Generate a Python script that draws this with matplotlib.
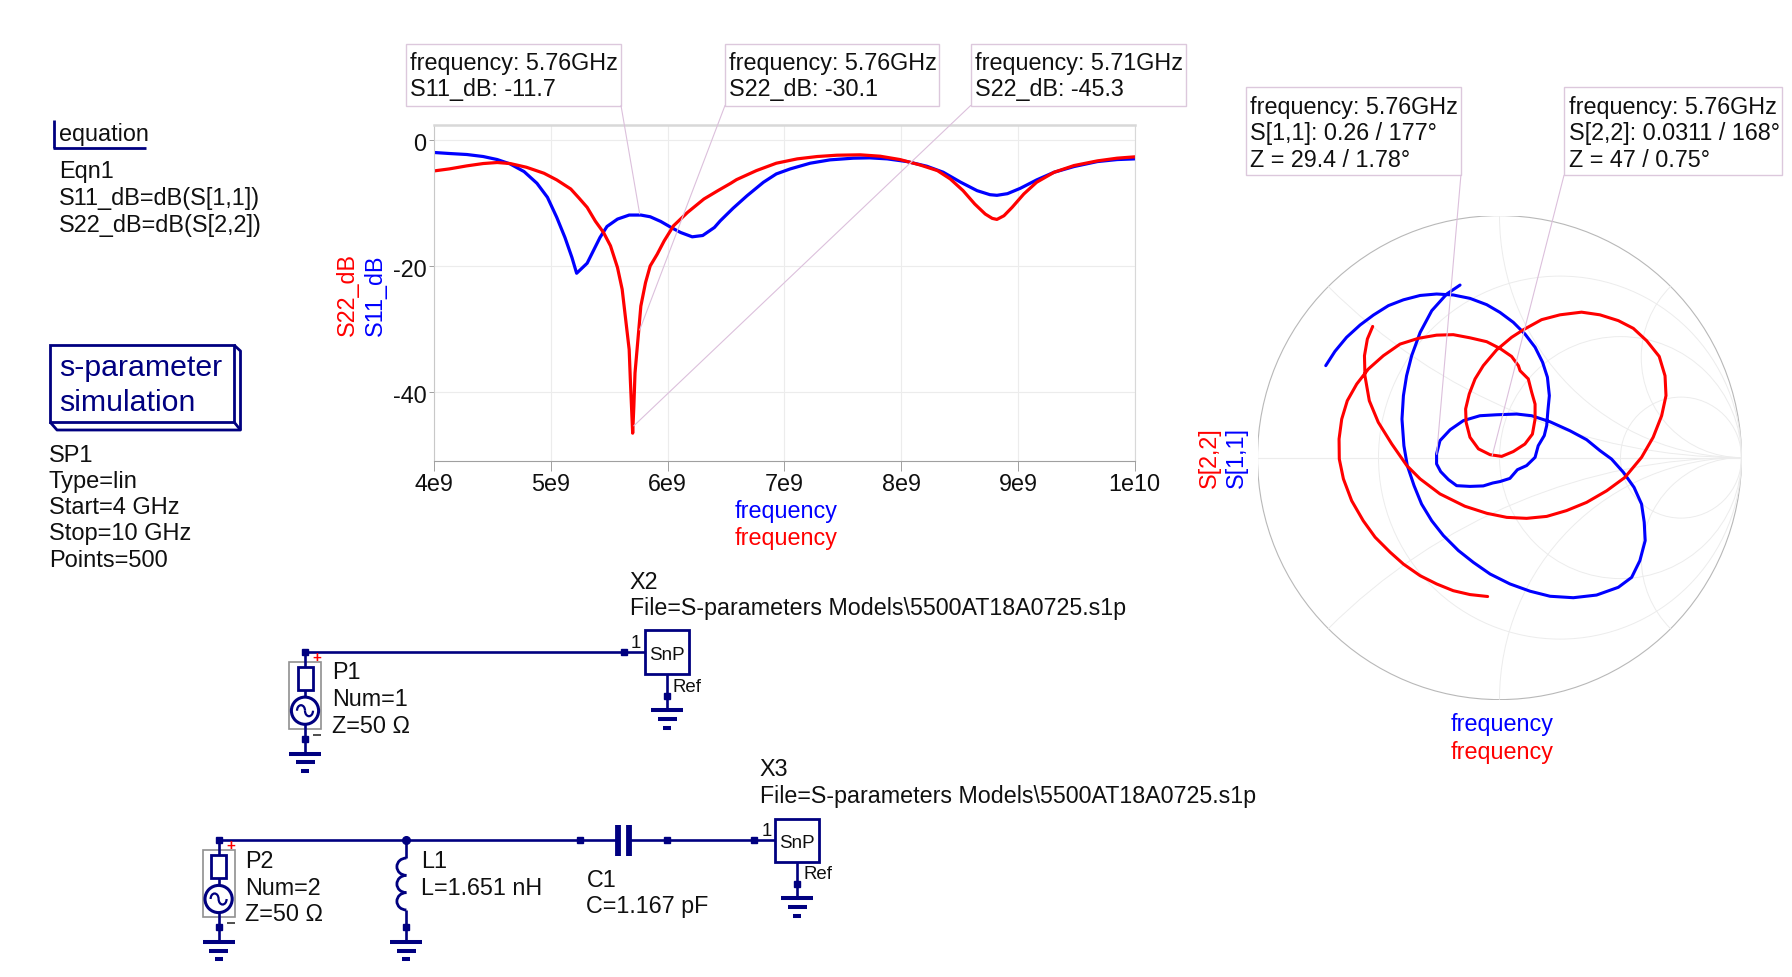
import numpy as np
import matplotlib
matplotlib.use("Agg")
import matplotlib.pyplot as plt
from matplotlib.patches import Rectangle, Circle, Arc, ConnectionPatch
from matplotlib.transforms import ScaledTranslation

plt.rcParams['font.family'] = ['Liberation Sans', 'DejaVu Sans']

W, H = 1792, 978
NAVY = '#000080'
FS = 16.8

# rectangular plot, frequency in GHz and level in dB
s11_freq = [4.0, 4.13, 4.28, 4.42, 4.54, 4.65, 4.77, 4.88, 4.97, 5.05, 5.12, 5.18, 5.22, 5.31, 5.37, 5.42, 5.48, 5.57, 5.67, 5.77,
            5.85, 5.94, 6.03, 6.11, 6.21, 6.30, 6.40, 6.45, 6.56, 6.68, 6.82, 6.93, 7.05, 7.22, 7.39, 7.59, 7.73, 7.88, 8.05,
            8.22, 8.36, 8.51, 8.65, 8.76, 8.82, 8.91, 9.02, 9.16, 9.31, 9.48, 9.68, 9.85, 10.0]
s11_db = [-1.96, -2.12, -2.28, -2.60, -3.08, -3.77, -4.99, -6.84, -9.07, -12.26, -15.44, -18.62, -21.11, -19.52, -17.29, -15.44, -13.69, -12.52, -11.88, -11.88,
          -12.15, -12.89, -13.85, -14.64, -15.33, -15.12, -13.85, -12.8, -10.8, -8.81, -6.68, -5.36, -4.56, -3.66, -3.13, -2.86, -2.81, -2.97, -3.40,
          -4.14, -5.09, -6.68, -8.01, -8.65, -8.75, -8.49, -7.64, -6.31, -5.09, -4.19, -3.40, -3.08, -2.97]
s22_freq = [4.0, 4.13, 4.28, 4.42, 4.54, 4.65, 4.79, 4.94, 5.05, 5.17, 5.24, 5.31, 5.38, 5.45, 5.51, 5.57, 5.61, 5.64, 5.67, 5.68, 5.69, 5.70,
            5.71, 5.72, 5.745, 5.77, 5.81, 5.85, 5.91, 5.97, 6.05, 6.17, 6.31, 6.43, 6.54, 6.59, 6.76, 6.93, 7.11, 7.28, 7.45, 7.65,
            7.82, 7.99, 8.16, 8.31, 8.42, 8.53, 8.63, 8.72, 8.78, 8.82, 8.88, 8.95, 9.05, 9.16, 9.31, 9.48, 9.68, 9.85, 10.0]
s22_db = [-4.88, -4.56, -4.08, -3.71, -3.55, -3.71, -4.30, -5.25, -6.31, -7.75, -9.18, -10.66, -12.84, -14.64, -16.76, -20.21, -23.66, -28.43, -33.21, -37.98, -42.23, -46.47,
          -42.23, -36.92, -31.62, -26.31, -22.60, -19.95, -18.09, -15.97, -13.58, -11.46, -9.34, -8.01, -6.84, -6.26, -4.83, -3.66, -2.97, -2.60, -2.39, -2.33,
          -2.55, -3.08, -3.93, -4.83, -6.15, -8.01, -10.13, -11.72, -12.41, -12.57, -11.99, -10.66, -8.54, -6.68, -5.09, -4.03, -3.29, -2.86, -2.65]
x_ticks = [4, 5, 6, 7, 8, 9, 10]
x_tick_labels = ['4e9', '5e9', '6e9', '7e9', '8e9', '9e9', '1e10']
y_ticks = [0, -20, -40]

# smith chart, reflection coefficient
s11_re = [-0.718, -0.680, -0.632, -0.576, -0.521, -0.459, -0.397, -0.328, -0.260, -0.191, -0.122, -0.053, 0.002, 0.057, 0.105, 0.147,
          0.178, 0.198, 0.206, 0.200, 0.195, 0.185, 0.160, 0.147, 0.112, 0.074, 0.043, 0.002, -0.028, -0.067, -0.122, -0.177,
          -0.211, -0.243, -0.260, -0.260, -0.246, -0.204, -0.149, -0.081, -0.012, 0.071, 0.133, 0.209, 0.291, 0.360, 0.415,
          0.463, 0.512, 0.556, 0.587, 0.598, 0.602, 0.580, 0.546, 0.491, 0.401, 0.305, 0.209, 0.126, 0.043, -0.039, -0.108,
          -0.170, -0.232, -0.280, -0.322, -0.353, -0.381, -0.395, -0.403, -0.397, -0.384, -0.363, -0.328, -0.280, -0.218, -0.163]
s11_im = [0.380, 0.439, 0.497, 0.548, 0.589, 0.628, 0.652, 0.670, 0.676, 0.672, 0.658, 0.632, 0.600, 0.559, 0.511, 0.456,
          0.394, 0.332, 0.256, 0.194, 0.132, 0.091, 0.049, 0.001, -0.033, -0.050, -0.086, -0.099, -0.105, -0.117, -0.119, -0.116,
          -0.091, -0.058, -0.026, 0.015, 0.070, 0.115, 0.153, 0.173, 0.177, 0.180, 0.173, 0.148, 0.111, 0.074, 0.029,
          -0.006, -0.061, -0.123, -0.192, -0.267, -0.343, -0.426, -0.495, -0.536, -0.568, -0.579, -0.573, -0.552, -0.522, -0.481, -0.433,
          -0.384, -0.322, -0.261, -0.192, -0.116, -0.033, 0.049, 0.159, 0.256, 0.338, 0.421, 0.517, 0.607, 0.676, 0.713]
s22_re = [-0.049, -0.122, -0.191, -0.260, -0.328, -0.397, -0.452, -0.514, -0.563, -0.611, -0.645, -0.662, -0.663, -0.652, -0.629, -0.590,
          -0.542, -0.480, -0.411, -0.335, -0.260, -0.191, -0.122, -0.053, 0.002, 0.050, 0.078, 0.085, 0.119, 0.133, 0.147, 0.147,
          0.136, 0.105, 0.057, 0.009, -0.039, -0.087, -0.122, -0.138, -0.140, -0.125, -0.101, -0.067, -0.012, 0.050, 0.098, 0.174,
          0.250, 0.339, 0.415, 0.491, 0.553, 0.608, 0.660, 0.684, 0.688, 0.670, 0.635, 0.587, 0.518, 0.443, 0.360, 0.277, 0.195,
          0.112, 0.030, -0.053, -0.143, -0.246, -0.328, -0.383, -0.445, -0.501, -0.538, -0.556, -0.558, -0.546, -0.524]
s22_im = [-0.574, -0.566, -0.550, -0.522, -0.488, -0.440, -0.391, -0.329, -0.261, -0.178, -0.088, -0.006, 0.077, 0.159, 0.235, 0.304,
          0.366, 0.421, 0.469, 0.493, 0.506, 0.508, 0.495, 0.479, 0.451, 0.418, 0.380, 0.359, 0.325, 0.270, 0.221, 0.159,
          0.097, 0.056, 0.025, 0.005, 0.012, 0.036, 0.084, 0.146, 0.201, 0.263, 0.325, 0.380, 0.445, 0.497, 0.528, 0.570,
          0.590, 0.601, 0.590, 0.566, 0.534, 0.483, 0.418, 0.338, 0.256, 0.173, 0.084, 0.001, -0.082, -0.137, -0.185, -0.219, -0.243,
          -0.251, -0.247, -0.230, -0.201, -0.150, -0.088, -0.033, 0.056, 0.146, 0.235, 0.338, 0.421, 0.490, 0.542]
smith_r = [1/3, 1, 3]
smith_x = [0.414, 1, 2.414]

# marker readouts
rect_markers = [(5.76, -11.7, ['frequency: 5.76GHz', 'S11_dB: -11.7']),
                (5.76, -30.1, ['frequency: 5.76GHz', 'S22_dB: -30.1']),
                (5.71, -45.3, ['frequency: 5.71GHz', 'S22_dB: -45.3'])]
smith_markers = [(0.26, 177, ['frequency: 5.76GHz', 'S[1,1]: 0.26 / 177°', 'Z = 29.4 / 1.78°']),
                 (0.0311, 168, ['frequency: 5.76GHz', 'S[2,2]: 0.0311 / 168°', 'Z = 47 / 0.75°'])]

fig = plt.figure(figsize=(W/100, H/100), dpi=100, facecolor='white')

# whole figure in pixels, for the labels
pix = fig.add_axes([0, 0, 1, 1])
pix.set_xlim(0, W)
pix.set_ylim(H, 0)
pix.axis('off')
labels_ax = pix

# the schematic sits one pixel lower
sch = fig.add_axes([0, 0, 1, 1], facecolor='none')
sch.set_xlim(0, W)
sch.set_ylim(H-1, -1)
sch.axis('off')


def txt(x, y, s, **kw):
    kw.setdefault('fontsize', FS)
    kw.setdefault('color', '#101010')
    if 'ha' not in kw:
        x = x - 0.8
    pix.text(x, y, s, va='baseline', **kw)


def wire(xs, ys, lw=1.9, color=NAVY, **kw):
    pix.plot(xs, ys, color=color, lw=lw, solid_capstyle='butt', **kw)


def node(x, y):
    pix.plot([x], [y], marker='s', ms=4, color=NAVY, mec=NAVY)


def ground(x, y):
    for dy, half in [(0, 16), (8.7, 9.5), (17.4, 4)]:
        wire([x-half, x+half], [y+dy, y+dy], lw=2.9)


def snp(left, right, top, bottom, base, ref_x, ref_y, one_x, one_y):
    pix.add_patch(Rectangle((left, top), right-left, bottom-top, fill=False, ec=NAVY, lw=2))
    txt((left+right)/2, base, 'SnP', fontsize=13.6, ha='center')
    txt(ref_x, ref_y, 'Ref', fontsize=13.4)
    txt(one_x, one_y, '1', fontsize=13.4)


def port(x, top, res_top, res_bot, cy, node_y, gnd_y, plus_y, minus_y):
    pix.add_patch(Rectangle((x-16, res_top-5), 32, 67, fill=False, ec='#909090', lw=1.2))
    pix.add_patch(Rectangle((x-7.5, res_top), 15, res_bot-res_top, fill=False, ec=NAVY, lw=2))
    pix.add_patch(Circle((x, cy), 13.6, fill=False, ec=NAVY, lw=2.2))
    pix.add_patch(Arc((x-4, cy), 8, 11, theta1=180, theta2=360, ec=NAVY, lw=1.6))
    pix.add_patch(Arc((x+4, cy), 8, 11, theta1=0, theta2=180, ec=NAVY, lw=1.6))
    wire([x, x], [top, res_top])
    wire([x, x], [res_bot, cy-13.6])
    wire([x, x], [cy+13.6, gnd_y])
    node(x, top)
    node(x, node_y)
    ground(x, gnd_y)
    pix.text(x+12, plus_y, '+', color='red', fontsize=11, ha='center', va='center', fontweight='bold')
    wire([x+8, x+16], [minus_y, minus_y], lw=1.2, color='#303030')


# equation block
wire([53.5, 53.5], [120.5, 149], lw=2)
wire([52.5, 146], [149, 149], lw=2)
txt(60, 140.7, 'equation', fontsize=FS)
for y, s in zip([178, 205, 232], ['Eqn1', 'S11_dB=dB(S[1,1])', 'S22_dB=dB(S[2,2])']):
    txt(60, y, s, fontsize=16.9)

# simulation block
pix.add_patch(Rectangle((50, 346), 184, 77, fill=False, ec=NAVY, lw=2))
wire([234, 240.5, 240.5, 57, 50], [346, 352, 431, 431, 423], lw=2)
wire([234, 240.5], [423, 431], lw=2)
txt(60, 375.7, 's-parameter', fontsize=21.8, color=NAVY)
txt(60, 411, 'simulation', fontsize=21.8, color=NAVY)
for y, s in zip([462, 488, 514, 540, 567], ['SP1', 'Type=lin', 'Start=4 GHz', 'Stop=10 GHz', 'Points=500']):
    txt(49.5, y, s, fontsize=17)

pix = sch

# first schematic line
wire([305, 645], [652.3, 652.3])
node(624, 652.3)
port(305, 652.3, 667, 690, 710.7, 739.3, 753.7, 657.3, 735)
txt(332.5, 678.3, 'P1')
txt(332.5, 705, 'Num=1')
txt(332.5, 732, 'Z=50 Ω')
snp(645, 689, 630, 674.3, 659, 673.6, 691, 631, 647.3)
wire([667, 667], [674.3, 710.3])
node(667, 695.7)
ground(667, 710.3)
txt(630.7, 587.7, 'X2')
txt(630.7, 614, r'File=S-parameters Models\5500AT18A0725.s1p', fontsize=16.75)

# second schematic line
wire([218.6, 617.7], [840.3, 840.3])
wire([629, 775], [840.3, 840.3])
port(218.6, 840.3, 855, 877.7, 899, 927.3, 942, 845.3, 922.7)
txt(246, 866.7, 'P2')
txt(246, 893.7, 'Num=2')
txt(246, 920.3, 'Z=50 Ω')
pix.plot([406.4], [840.3], marker='o', ms=5.5, color=NAVY)
wire([406.4, 406.4], [840.3, 858])
wire([406.4, 406.4], [910, 942])
for cy in [866.7, 884, 901.3]:
    pix.add_patch(Arc((406.4, cy), 19, 17.3, theta1=90, theta2=270, ec=NAVY, lw=2))
node(406.4, 927.3)
ground(406.4, 942)
txt(422, 866.7, 'L1')
txt(422, 893.7, 'L=1.651 nH')
node(580, 840.3)
node(666.7, 840.3)
node(754, 840.3)
for x in [617.7, 629]:
    wire([x, x], [825, 856], lw=4.2)
txt(587.3, 885.7, 'C1')
txt(587.3, 912, 'C=1.167 pF')
snp(775, 819, 819, 862.3, 847.3, 804, 878, 762, 835)
wire([797, 797], [862.3, 898.3])
node(797, 883.7)
ground(797, 898.3)
txt(760.7, 775.3, 'X3')
txt(760.7, 802.3, r'File=S-parameters Models\5500AT18A0725.s1p', fontsize=16.75)

pix = labels_ax

# rectangular plot
left, right, top, bottom = 434.2, 1134.7, 126, 461.5
ax = fig.add_axes([left/W, 1-bottom/H, (right-left)/W, (bottom-top)/H], facecolor='none')
ax.plot(s11_freq, s11_db, color='#0000ff', lw=2.3)
ax.plot(s22_freq, s22_db, color='#ff0000', lw=2.3)
ax.set_xlim(4, 10)
ax.set_ylim(-50.8, 2.4)
ax.set_xticks(x_ticks)
ax.set_xticklabels(x_tick_labels, fontsize=FS, color='#101010')
ax.set_yticks(y_ticks)
ax.set_yticklabels([str(t) for t in y_ticks], fontsize=FS, color='#101010')
ax.tick_params(axis='x', length=7, width=0.7, color='#a0a0a0', pad=1.2)
ax.tick_params(axis='y', length=3.6, width=0.7, color='#a0a0a0', pad=2)
ax.grid(color='#ececec', lw=0.8)
ax.set_axisbelow(True)
for lab in ax.get_yticklabels():
    lab.set_transform(lab.get_transform() + ScaledTranslation(0, -0.5/72, fig.dpi_scale_trans))
ax.spines['top'].set_color('#d8d8d8')
ax.spines['top'].set_linewidth(1.8)
ax.spines['right'].set_color('#d8d8d8')
ax.spines['left'].set_color('#c8c8c8')
ax.spines['bottom'].set_color('#a0a0a0')
for side in ax.spines.values():
    side.set_linewidth(max(side.get_linewidth(), 0.8))

txt(354, 295, 'S22_dB', color='red', rotation=90, ha='center', rotation_mode='anchor')
txt(382, 295, 'S11_dB', color='blue', rotation=90, ha='center', rotation_mode='anchor')
txt(786.6, 518, 'frequency', color='blue', ha='center')
txt(786.6, 545.5, 'frequency', color='red', ha='center')

rect_boxes = [(406, 621, 411, 621), (725, 939.4, 730, 725), (970.7, 1185.7, 975.6, 970.7)]
for (f, db, lines), (bl, br, tx, ax_x) in zip(rect_markers, rect_boxes):
    pix.add_patch(Rectangle((bl, 44.5), br-bl, 62, fc='white', ec='#dcc8dc', lw=1))
    txt(tx, 70, lines[0])
    txt(tx, 96, lines[1])
    fig.add_artist(ConnectionPatch(xyA=(f, db), coordsA=ax.transData, xyB=(ax_x, 106.5), coordsB=pix.transData,
                                   color='#dcc0dc', lw=0.8))

# smith chart
cx, cy, rad = 1499.5, 458.6, 242
smith = fig.add_axes([(cx-rad)/W, 1-(cy+rad)/H, 2*rad/W, 2*rad/H], facecolor='none')
smith.set_xlim(-1, 1)
smith.set_ylim(-1, 1)
smith.axis('off')
outline = Circle((0, 0), 1, fill=False, ec='#b8b8b8', lw=0.8)
smith.add_patch(outline)
smith.plot([-1, 1], [0, 0], color='#ececec', lw=0.8)
for r in smith_r:
    smith.add_patch(Circle((r/(1+r), 0), 1/(1+r), fill=False, ec='#ececec', lw=0.7))
for x in smith_x:
    for sign in [1, -1]:
        arc = Circle((1, sign/x), 1/x, fill=False, ec='#ececec', lw=0.7)
        smith.add_patch(arc)
        arc.set_clip_path(outline)
smith.plot(s11_re, s11_im, color='#0000ff', lw=2.2, solid_capstyle='round', solid_joinstyle='round')
smith.plot(s22_re, s22_im, color='#ff0000', lw=2.2, solid_capstyle='round', solid_joinstyle='round')

txt(1216, 458, 'S[2,2]', color='red', rotation=90, ha='center', rotation_mode='anchor')
txt(1243, 458, 'S[1,1]', color='blue', rotation=90, ha='center', rotation_mode='anchor')
txt(1502, 730.5, 'frequency', color='blue', ha='center')
txt(1502, 758.5, 'frequency', color='red', ha='center')

smith_boxes = [(1245.6, 1460.9, 1250.3, 1460.9), (1564, 1782, 1569.5, 1564)]
for (mag, ang, lines), (bl, br, tx, ax_x) in zip(smith_markers, smith_boxes):
    pix.add_patch(Rectangle((bl, 88), br-bl, 88.3, fc='white', ec='#dcc8dc', lw=1))
    for y, s in zip([113.8, 139.8, 166.7], lines):
        txt(tx, y, s)
    g = (mag*np.cos(np.radians(ang)), mag*np.sin(np.radians(ang)))
    fig.add_artist(ConnectionPatch(xyA=g, coordsA=smith.transData, xyB=(ax_x, 176.3), coordsB=pix.transData,
                                   color='#dcc0dc', lw=0.8))

fig.savefig('out.png', dpi=100)
